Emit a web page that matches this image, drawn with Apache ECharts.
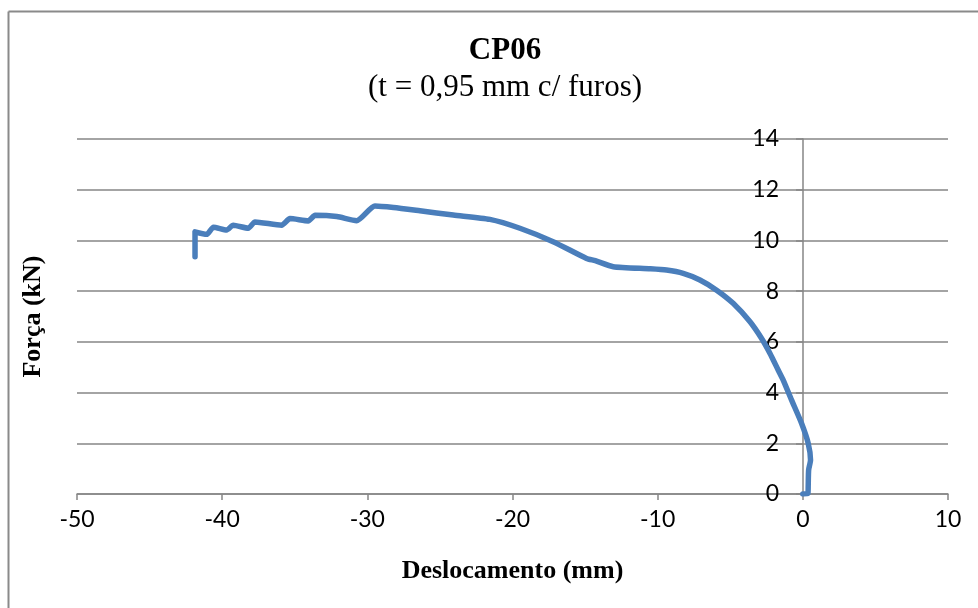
<!DOCTYPE html>
<html>
<head>
<meta charset="utf-8">
<script src="https://cdn.jsdelivr.net/npm/echarts@6/dist/echarts.min.js"></script>
<style>
html,body{margin:0;padding:0;background:#fff;}
#chart{width:978px;height:608px;}
</style>
</head>
<body>
<div id="chart"></div>
<script>
// Deslocamento (mm), Força (kN) — in test order
var deslocamento = [0, 0.35, 0.37, 0.4, 0.53, 0.37, -0.09, -0.78, -1.36, -1.7, -2.27, -2.85, -3.65, -4.8, -5.94, -7.09, -8.24, -9.39, -10.5, -13.06, -14.3, -14.9, -17.2, -19.49, -21.56, -24.08, -26.38, -28.2, -29.48, -30.74, -32.1, -33.6, -34.07, -35.33, -35.9, -37.74, -38.2, -39.24, -39.69, -40.6, -41.07, -41.87, -41.87];
var forca = [0, 0.02, 0.3, 0.95, 1.34, 2.0, 2.79, 3.71, 4.5, 4.89, 5.55, 6.14, 6.8, 7.52, 8.04, 8.44, 8.7, 8.83, 8.88, 8.96, 9.2, 9.29, 9.95, 10.48, 10.83, 11.0, 11.17, 11.3, 11.36, 10.78, 10.94, 10.99, 10.77, 10.86, 10.6, 10.73, 10.48, 10.6, 10.41, 10.52, 10.24, 10.34, 9.36];
var xTicks = [-50, -40, -30, -20, -10, 0, 10];
var yTicks = [0, 2, 4, 6, 8, 10, 12, 14];
var titleText = 'CP06';
var subtitleText = '(t = 0,95 mm c/ furos)';
var xName = 'Deslocamento (mm)';
var yName = 'Força (kN)';

var pts = deslocamento.map(function (d, i) { return [d, forca[i]]; });

var chart = echarts.init(document.getElementById('chart'), null, {renderer: 'canvas'});
var axisGray = '#868686';
chart.setOption({
  animation: false,
  backgroundColor: '#ffffff',
  title: {
    text: titleText,
    subtext: subtitleText,
    left: 500,
    top: 30,
    textAlign: 'center',
    itemGap: 6,
    textStyle: {fontFamily: 'Liberation Serif', fontWeight: 'bold', fontSize: 31, color: '#000'},
    subtextStyle: {fontFamily: 'Liberation Serif', fontSize: 31, color: '#000'}
  },
  graphic: [
    {type: 'line', shape: {x1: 8.5, y1: 11.5, x2: 8.5, y2: 608}, style: {stroke: '#8a8a8a', lineWidth: 2}},
    {type: 'line', shape: {x1: 8.5, y1: 11.5, x2: 978, y2: 11.5}, style: {stroke: '#8a8a8a', lineWidth: 2}}
  ],
  grid: {left: 77, right: 30, top: 139, bottom: 114, containLabel: false, outerBoundsMode: 'none'},
  xAxis: {
    type: 'value',
    min: xTicks[0],
    max: xTicks[xTicks.length - 1],
    interval: 10,
    name: xName,
    nameLocation: 'middle',
    nameGap: 64,
    nameTextStyle: {fontFamily: 'Liberation Serif', fontWeight: 'bold', fontSize: 26, color: '#000'},
    axisLine: {onZero: true, lineStyle: {color: axisGray, width: 1.5}},
    axisTick: {show: true, inside: false, length: 6, lineStyle: {color: axisGray, width: 1.5}},
    axisLabel: {fontFamily: 'Lato', fontSize: 23, color: '#000', margin: 14},
    splitLine: {show: false}
  },
  yAxis: {
    type: 'value',
    position: 'left',
    offset: -726,
    min: yTicks[0],
    max: yTicks[yTicks.length - 1],
    interval: 2,
    name: yName,
    nameLocation: 'middle',
    nameGap: 757,
    nameRotate: 90,
    nameTextStyle: {fontFamily: 'Liberation Serif', fontWeight: 'bold', fontSize: 26, color: '#000'},
    axisLine: {show: true, onZero: false, lineStyle: {color: axisGray, width: 1.5}},
    axisTick: {show: true, inside: false, length: 7, lineStyle: {color: axisGray, width: 1.5}},
    axisLabel: {fontFamily: 'Lato', fontSize: 23, color: '#000', margin: 24},
    splitLine: {show: true, lineStyle: {color: axisGray, width: 1.5}}
  },
  series: [{
    type: 'line',
    data: pts,
    showSymbol: false,
    smooth: 0.2,
    lineStyle: {color: '#4A7EBB', width: 5.5, cap: 'round', join: 'round'},
    itemStyle: {color: '#4A7EBB'}
  }]
});
</script>
</body>
</html>
